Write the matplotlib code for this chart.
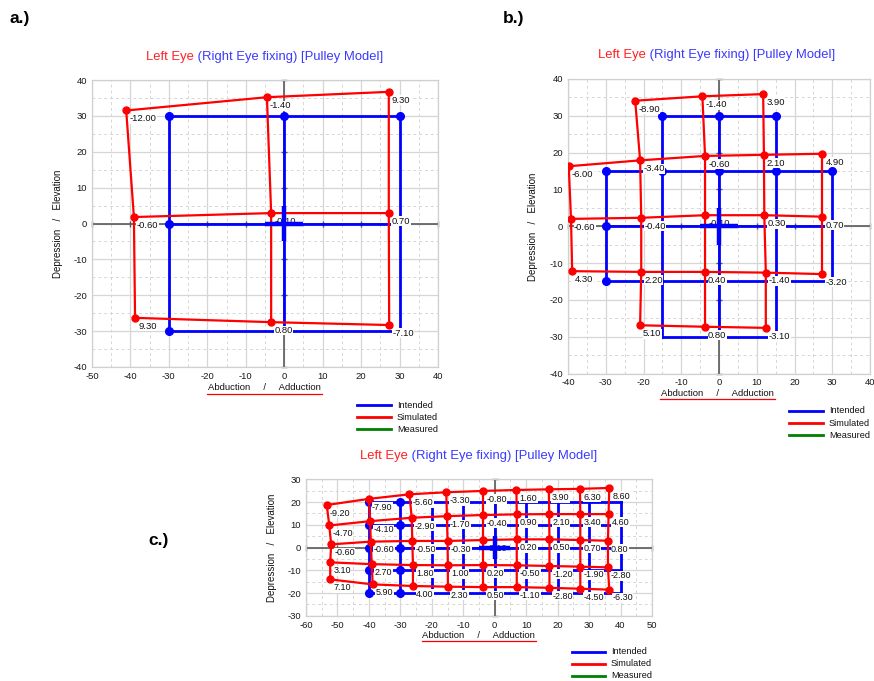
import numpy as np
import matplotlib.pyplot as plt
from matplotlib.lines import Line2D

plt.rcParams['font.family'] = ['Liberation Sans', 'DejaVu Sans']
plt.rcParams['axes.unicode_minus'] = False

W, H = 874, 681
RED = '#ff0000'
BLUE = '#0000ff'
GREEN = '#008000'
AXIS = '#5a5a5a'
nan = np.nan

# ---------------- a.) 3x3 ----------------
a_int_x = [-30, 0, 30]
a_int_y = [30, 0, -30]
a_sim_x = [[-41.1, -4.5, 27.2],
           [-39.1, -3.4, 27.2],
           [-38.8, -3.4, 27.3]]
a_sim_y = [[31.5, 35.2, 36.7],
           [1.8, 2.9, 2.9],
           [-26.3, -27.5, -28.3]]
a_labels = [['-12.00', '-1.40', '9.30'],
            ['-0.60', '-0.10', '0.70'],
            ['9.30', '0.80', '-7.10']]
a_dots = [(-30, 30), (0, 30), (30, 30), (-30, 0), (-30, -30)]

# ---------------- b.) cross of 5x5 ----------------
b_int_x = [-30, -15, 0, 15, 30]
b_int_y = [30, 15, 0, -15, -30]
b_sim_x = [[nan, -22.2, -4.4, 11.7, nan],
           [-39.8, -20.9, -3.7, 11.9, 27.4],
           [-39.2, -20.6, -3.7, 12.0, 27.4],
           [-38.9, -20.6, -3.7, 12.4, 27.4],
           [nan, -20.9, -3.7, 12.4, nan]]
b_sim_y = [[nan, 34.1, 35.3, 35.9, nan],
           [16.3, 17.9, 19.1, 19.4, 19.7],
           [2.0, 2.3, 3.0, 3.0, 2.6],
           [-12.2, -12.4, -12.4, -12.6, -13.0],
           [nan, -26.9, -27.3, -27.6, nan]]
b_labels = [['', '-8.90', '-1.40', '3.90', ''],
            ['-6.00', '-3.40', '-0.60', '2.10', '4.90'],
            ['-0.60', '-0.40', '-0.10', '0.30', '0.70'],
            ['4.30', '2.20', '0.40', '-1.40', '-3.20'],
            ['', '5.10', '0.80', '-3.10', '']]
b_dots = [(-15, 30), (0, 30), (15, 30), (-30, 15), (-15, 15), (0, 15),
          (15, 15), (30, 15), (-30, 0), (-30, -15)]

# ---------------- c.) 9x5 ----------------
c_int_x = [-40, -30, -20, -10, 0, 10, 20, 30, 40]
c_int_y = [20, 10, 0, -10, -20]
c_sim_x = [[-53.4, -40.0, -27.1, -15.4, -3.6, 6.9, 17.2, 27.1, 36.4],
           [-52.6, -39.6, -26.4, -15.2, -3.6, 7.0, 17.3, 27.2, 36.2],
           [-52.0, -39.4, -26.2, -15.0, -3.6, 7.0, 17.4, 27.2, 36.0],
           [-52.3, -39.1, -26.0, -14.9, -3.6, 7.0, 17.4, 27.2, 36.0],
           [-52.3, -38.8, -26.0, -14.9, -3.6, 7.0, 17.4, 27.2, 36.4]]
c_sim_y = [[18.7, 21.4, 23.4, 24.3, 24.9, 25.3, 25.6, 25.8, 26.2],
           [9.7, 11.6, 13.1, 13.8, 14.3, 14.6, 14.7, 14.7, 14.7],
           [1.4, 2.6, 2.9, 2.9, 3.3, 3.6, 3.6, 3.3, 3.0],
           [-6.5, -7.3, -7.7, -7.8, -7.7, -7.8, -8.1, -8.4, -8.7],
           [-14.0, -16.2, -16.9, -17.2, -17.4, -17.4, -17.7, -18.1, -18.5]]
c_labels = [['-9.20', '-7.90', '-5.60', '-3.30', '-0.80', '1.60', '3.90', '6.30', '8.60'],
            ['-4.70', '-4.10', '-2.90', '-1.70', '-0.40', '0.90', '2.10', '3.40', '4.60'],
            ['-0.60', '-0.60', '-0.50', '-0.30', '-0.10', '0.20', '0.50', '0.70', '0.80'],
            ['3.10', '2.70', '1.80', '1.00', '0.20', '-0.50', '-1.20', '-1.90', '-2.80'],
            ['7.10', '5.90', '4.00', '2.30', '0.50', '-1.10', '-2.80', '-4.50', '-6.30']]
c_dots = [(-40, 20), (-40, 10), (-40, 0), (-40, -10), (-40, -20),
          (-30, 20), (-30, 10), (-30, 0), (-30, -10), (-30, -20)]

legend_names = ['Intended', 'Simulated', 'Measured']
legend_colors = [BLUE, RED, GREEN]

fig = plt.figure(figsize=(8.74, 6.81), dpi=100)


def fx(x):
    return x / W


def fy(y):
    return 1 - y / H


def make_axes(l, t, r, b, xlim, ylim):
    ax = fig.add_axes([fx(l), fy(b), (r - l) / W, (b - t) / H])
    ax.set_xlim(*xlim)
    ax.set_ylim(*ylim)
    ax.set_xticks(np.arange(xlim[0], xlim[1] + 1, 10))
    ax.set_yticks(np.arange(ylim[0], ylim[1] + 1, 10))
    ax.set_xticks(np.arange(xlim[0], xlim[1] + 1, 5), minor=True)
    ax.set_yticks(np.arange(ylim[0], ylim[1] + 1, 5), minor=True)
    ax.grid(which='major', color='#d6d6d6', lw=0.9, ls='-')
    ax.grid(which='minor', color='#d6d6d6', lw=0.7, ls=(0, (3, 3)))
    ax.set_axisbelow(True)
    ax.tick_params(which='both', length=0, labelsize=6.8, colors='#1a1a1a', pad=3.5)
    for s in ax.spines.values():
        s.set_color('#d0d0d0')
        s.set_linewidth(0.9)
    # zero axes with small ticks
    ax.axhline(0, color=AXIS, lw=1.2, zorder=1.5)
    ax.axvline(0, color=AXIS, lw=1.2, zorder=1.5)
    xt = np.arange(xlim[0], xlim[1] + 1, 10)
    yt = np.arange(ylim[0], ylim[1] + 1, 10)
    ax.plot(xt, np.zeros(len(xt)), ls='none', marker='|', ms=5, mew=1, color=AXIS, zorder=1.5, clip_on=False)
    ax.plot(np.zeros(len(yt)), yt, ls='none', marker='_', ms=5, mew=1, color=AXIS, zorder=1.5, clip_on=False)
    return ax


def draw_data(ax, int_x, int_y, sim_x, sim_y, labels, dots, fs):
    sx = np.array(sim_x, float)
    sy = np.array(sim_y, float)
    mask = ~np.isnan(sx)
    gx, gy = np.meshgrid(int_x, int_y)
    gx = np.where(mask, gx, nan)
    gy = np.where(mask, gy, nan)
    # intended (blue)
    for i in range(gx.shape[0]):
        ax.plot(gx[i], gy[i], color=BLUE, lw=2.0, zorder=2)
    for j in range(gx.shape[1]):
        ax.plot(gx[:, j], gy[:, j], color=BLUE, lw=2.0, zorder=2)
    dx, dy = zip(*dots)
    ax.plot(dx, dy, 'o', color=BLUE, ms=5.5, zorder=2.5)
    # value labels
    for i in range(sx.shape[0]):
        for j in range(sx.shape[1]):
            if mask[i, j]:
                ax.annotate(labels[i][j], (sx[i, j], sy[i, j]), xytext=(2.2, -6.0),
                            textcoords='offset points', ha='left', va='center',
                            fontsize=fs, color='#111111', zorder=3,
                            bbox=dict(boxstyle='square,pad=0.05', fc='white', ec='none'))
    # simulated (red)
    for i in range(sx.shape[0]):
        ax.plot(sx[i], sy[i], color=RED, lw=1.6, zorder=4)
    for j in range(sx.shape[1]):
        ax.plot(sx[:, j], sy[:, j], color=RED, lw=1.6, zorder=4)
    ax.plot(sx[mask], sy[mask], 'o', color=RED, ms=5, zorder=5)
    # fixation cross
    ax.plot([-5, 5], [0, 0], color=BLUE, lw=3.2, zorder=6, solid_capstyle='butt')
    ax.plot([0, 0], [-5, 5], color=BLUE, lw=3.2, zorder=6, solid_capstyle='butt')


def decorate(ax, title_x, title_y, xl_l, xl_r, xl_y, yl_x, yl_y, leg_x0, leg_x1, leg_tx, leg_ys):
    t1 = fig.text(fx(title_x), fy(title_y), 'Left Eye', color='#ff2020', fontsize=9.4,
                  ha='left', va='center')
    ax.annotate(' (Right Eye fixing) [Pulley Model]', xy=(1, 0), xycoords=t1,
                ha='left', va='bottom', color='#3a3aff', fontsize=9.4, annotation_clip=False)
    fig.text(fx((xl_l + xl_r) / 2), fy(xl_y), 'Abduction     /     Adduction', fontsize=6.8,
             ha='center', va='center', color='#111111')
    fig.add_artist(Line2D([fx(xl_l), fx(xl_r)], [fy(xl_y + 6), fy(xl_y + 6)],
                          transform=fig.transFigure, color=RED, lw=0.9))
    fig.text(fx(yl_x), fy(yl_y), 'Depression   /   Elevation', fontsize=7, rotation=90,
             ha='center', va='center', color='#111111')
    for name, col, ly in zip(legend_names, legend_colors, leg_ys):
        fig.add_artist(Line2D([fx(leg_x0), fx(leg_x1)], [fy(ly), fy(ly)],
                              transform=fig.transFigure, color=col, lw=2))
        fig.text(fx(leg_tx), fy(ly), name, fontsize=6.6, ha='left', va='center', color='#111111')


# a.)
ax_a = make_axes(92, 80, 438, 367, (-50, 40), (-40, 40))
draw_data(ax_a, a_int_x, a_int_y, a_sim_x, a_sim_y, a_labels, a_dots, 6.8)
decorate(ax_a, 145.7, 56.7, 207, 322, 388, 58, 224, 357, 391, 397, [405, 417, 429])

# b.)
ax_b = make_axes(568, 79, 870, 373.5, (-40, 40), (-40, 40))
draw_data(ax_b, b_int_x, b_int_y, b_sim_x, b_sim_y, b_labels, b_dots, 6.8)
decorate(ax_b, 598.3, 55.3, 660, 775, 393, 533, 227, 789, 823, 829, [410.5, 423, 435])

# c.)
ax_c = make_axes(306, 479.3, 652, 615.8, (-60, 50), (-30, 30))
draw_data(ax_c, c_int_x, c_int_y, c_sim_x, c_sim_y, c_labels, c_dots, 6.5)
decorate(ax_c, 360, 456, 421.7, 536, 635, 271.7, 547.5, 572, 605, 611, [651.5, 663.5, 676])

for tag, x, y in [('a.)', 10, 19), ('b.)', 503, 19), ('c.)', 148, 541)]:
    fig.text(fx(x), fy(y), tag, fontsize=12.5, fontweight='bold', ha='left', va='center')

fig.savefig('out.png', dpi=100, facecolor='white')
